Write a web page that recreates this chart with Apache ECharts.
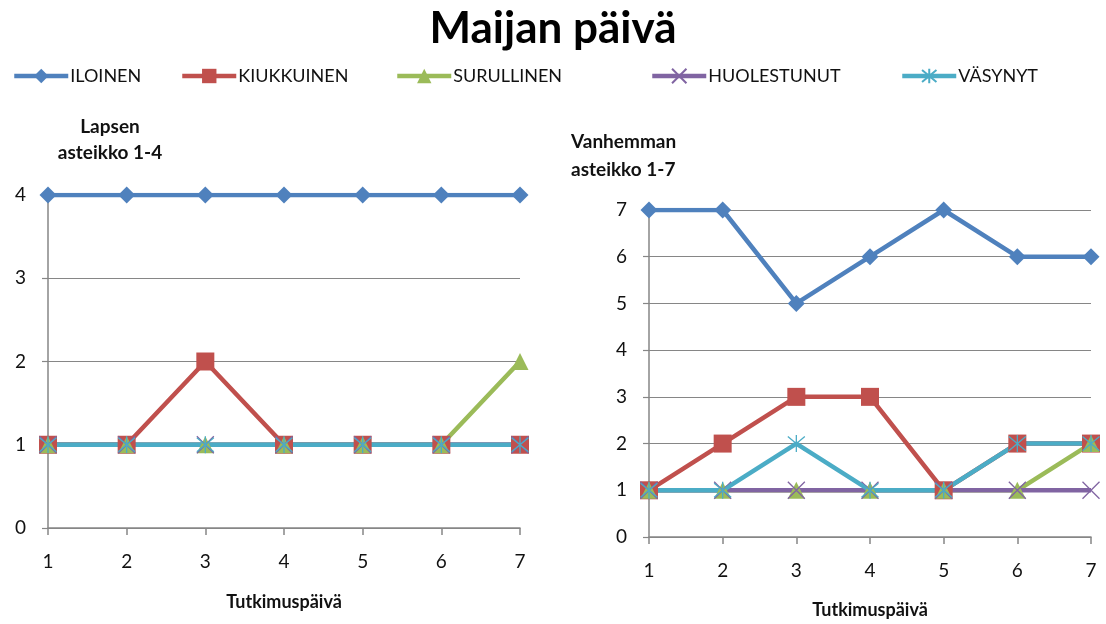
<!DOCTYPE html>
<html>
<head>
<meta charset="utf-8">
<script src="https://cdn.jsdelivr.net/npm/echarts@6/dist/echarts.min.js"></script>
<style>
  html, body { margin: 0; padding: 0; background: #fff; }
  #main { width: 1106px; height: 624px; }
</style>
</head>
<body>
<div id="main"></div>
<script>
var chart = echarts.init(document.getElementById("main"));

// tutkimuspäivät
var paivat = ["1", "2", "3", "4", "5", "6", "7"];
var nimet = ["ILOINEN", "KIUKKUINEN", "SURULLINEN", "HUOLESTUNUT", "VÄSYNYT"];

// lapsen asteikko 1-4
var lapsiIloinen = [4, 4, 4, 4, 4, 4, 4];
var lapsiKiukkuinen = [1, 1, 2, 1, 1, 1, 1];
var lapsiSurullinen = [1, 1, 1, 1, 1, 1, 2];
var lapsiHuolestunut = [1, 1, 1, 1, 1, 1, 1];
var lapsiVasynyt = [1, 1, 1, 1, 1, 1, 1];

// vanhemman asteikko 1-7
var vanhempiIloinen = [7, 7, 5, 6, 7, 6, 6];
var vanhempiKiukkuinen = [1, 2, 3, 3, 1, 2, 2];
var vanhempiSurullinen = [1, 1, 1, 1, 1, 1, 2];
var vanhempiHuolestunut = [1, 1, 1, 1, 1, 1, 1];
var vanhempiVasynyt = [1, 1, 2, 1, 1, 2, 2];

var fontti = "Lato, 'Open Sans', sans-serif";
var varit = ["#4f81bd", "#c0504d", "#9bbb59", "#8064a2", "#4bacc6"];
var merkit = [
  "diamond",
  "rect",
  "triangle",
  "path://M0,0L10,10M10,0L0,10",
  "path://M0,0L10,10M10,0L0,10M5,-1L5,11"
];
var koot = [17, 18, 17, 17, 17];

function sarja(i, data, indeksi) {
  var viiva = i >= 3;
  return {
    name: nimet[i],
    type: "line",
    xAxisIndex: indeksi,
    yAxisIndex: indeksi,
    data: data,
    symbol: merkit[i],
    symbolSize: koot[i],
    showAllSymbol: true,
    animation: false,
    lineStyle: { color: varit[i], width: 4.5 },
    itemStyle: viiva
      ? { color: "rgba(0,0,0,0)", borderColor: varit[i], borderWidth: 1.3 }
      : { color: varit[i], borderWidth: 0 },
    emphasis: { disabled: true }
  };
}

function xAkseli(indeksi, nameGap) {
  return {
    type: "category",
    gridIndex: indeksi,
    data: paivat,
    boundaryGap: false,
    name: "Tutkimuspäivä",
    nameLocation: "middle",
    nameGap: nameGap,
    nameTextStyle: { fontFamily: fontti, fontWeight: "bold", fontSize: 18, color: "#111" },
    axisLine: { lineStyle: { color: "#868686", width: 1.5 } },
    axisTick: { show: true, length: 7, lineStyle: { color: "#868686", width: 1.5 } },
    axisLabel: { fontFamily: fontti, fontSize: 19, color: "#111", margin: 24 },
    splitLine: { show: false }
  };
}

function yAkseli(indeksi, max) {
  return {
    type: "value",
    gridIndex: indeksi,
    min: 0,
    max: max,
    interval: 1,
    axisLine: { show: true, lineStyle: { color: "#868686", width: 1.5 } },
    axisTick: { show: true, length: 6, lineStyle: { color: "#868686", width: 1.2 } },
    axisLabel: { fontFamily: fontti, fontSize: 19, color: "#111", margin: 22 },
    splitLine: { show: true, lineStyle: { color: "#868686", width: 1.2 } }
  };
}

var legendaPaikat = [12, 180, 395, 650, 900];
var legendat = nimet.map(function (n, i) {
  return {
    data: [n],
    left: legendaPaikat[i],
    top: 67,
    padding: 0,
    itemWidth: 54,
    itemHeight: 18,
    itemGap: 0,
    selectedMode: false,
    lineStyle: { width: 4.5 },
    textStyle: { fontFamily: fontti, fontSize: 18, color: "#111", padding: [0, 0, 0, -3] }
  };
});

var option = {
  backgroundColor: "#fff",
  animation: false,
  title: [
    {
      text: "Maijan päivä",
      left: "center",
      top: 2,
      textStyle: { fontFamily: fontti, fontWeight: "bold", fontSize: 44, color: "#000" }
    },
    {
      text: "Lapsen\nasteikko 1-4",
      left: 105,
      top: 109,
      textAlign: "center",
      textStyle: { fontFamily: fontti, fontWeight: "bold", fontSize: 19, color: "#111", lineHeight: 26 }
    },
    {
      text: "Vanhemman\nasteikko 1-7",
      left: 566,
      top: 123,
      textStyle: { fontFamily: fontti, fontWeight: "bold", fontSize: 19, color: "#111", lineHeight: 28 }
    }
  ],
  legend: legendat,
  grid: [
    { left: 48, right: 586, top: 195, bottom: 96 },
    { left: 649, right: 15, top: 210, bottom: 86 }
  ],
  xAxis: [xAkseli(0, 65), xAkseli(1, 64)],
  yAxis: [yAkseli(0, 4), yAkseli(1, 7)],
  series: [
    sarja(0, lapsiIloinen, 0),
    sarja(1, lapsiKiukkuinen, 0),
    sarja(2, lapsiSurullinen, 0),
    sarja(3, lapsiHuolestunut, 0),
    sarja(4, lapsiVasynyt, 0),
    sarja(0, vanhempiIloinen, 1),
    sarja(1, vanhempiKiukkuinen, 1),
    sarja(2, vanhempiSurullinen, 1),
    sarja(3, vanhempiHuolestunut, 1),
    sarja(4, vanhempiVasynyt, 1)
  ]
};

chart.setOption(option);
</script>
</body>
</html>
